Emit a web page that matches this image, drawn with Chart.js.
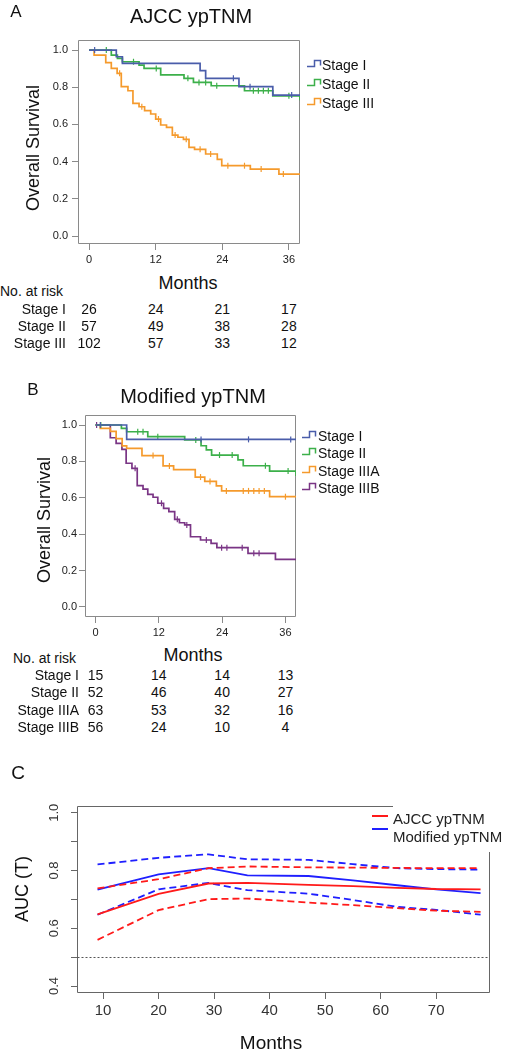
<!DOCTYPE html>
<html><head><meta charset="utf-8">
<script src="https://cdn.jsdelivr.net/npm/chart.js@4.4.1/dist/chart.umd.min.js"></script>
<style>
html,body{margin:0;padding:0;background:#fff;}
body{width:506px;height:1050px;position:relative;overflow:hidden;font-family:"Liberation Sans",Arial,sans-serif;color:#111;}
canvas{position:absolute;}
.t{position:absolute;white-space:nowrap;line-height:1;}
</style></head><body>
<canvas id="cA" width="380" height="270" style="left:0;top:0;width:380px;height:270px"></canvas>
<canvas id="cB" width="380" height="270" style="left:0;top:370px;width:380px;height:270px"></canvas>
<canvas id="cC" width="506" height="260" style="left:0;top:790px;width:506px;height:260px"></canvas>
<script>
// ---------------- DATA ----------------
// Panel A: AJCC ypTNM (Kaplan-Meier)
const A_STAGES = ['Stage I', 'Stage II', 'Stage III'];
const A_I_TIME   = [0, 4.9, 6.0, 20.0, 21.0, 27.0, 33.1, 38];
const A_I_SURV   = [1.0, 0.964, 0.928, 0.889, 0.848, 0.803, 0.758, 0.758];
const A_I_CENS   = [1.0, 26.0, 29.0, 36.5];
const A_II_TIME  = [0, 4.0, 5.1, 6.0, 9.0, 9.9, 12.9, 17.1, 18.8, 22.0, 28.0, 33.1, 38];
const A_II_SURV  = [1.0, 0.973, 0.955, 0.937, 0.919, 0.901, 0.866, 0.848, 0.826, 0.808, 0.781, 0.754, 0.730];
const A_II_CENS  = [3.1, 8.0, 12.1, 17.8, 19.8, 21.0, 23.0, 29.6, 30.5, 31.4, 32.3, 36.0];
const A_III_TIME = [0, 0.9, 3.0, 4.0, 5.05, 5.8, 7.0, 7.9, 9.0, 10.0, 11.1, 12.0, 12.9, 13.95, 15.0, 16.0, 17.0, 18.0, 19.0, 21.0, 23.1, 23.9, 29.05, 34.2, 38];
const A_III_SURV = [1.0, 0.973, 0.932, 0.901, 0.875, 0.803, 0.781, 0.713, 0.695, 0.674, 0.656, 0.629, 0.597, 0.584, 0.543, 0.531, 0.520, 0.477, 0.466, 0.441, 0.412, 0.378, 0.360, 0.333, 0.333];
const A_III_CENS = [5.5, 9.5, 12.5, 15.5, 17.5, 20.0, 21.9, 25.0, 28.0, 31.0, 35.0];
const A_RISK_I   = [26, 24, 21, 17];
const A_RISK_II  = [57, 49, 38, 28];
const A_RISK_III = [102, 57, 33, 12];

// Panel B: Modified ypTNM (Kaplan-Meier)
const B_STAGES = ['Stage I', 'Stage II', 'Stage IIIA', 'Stage IIIB'];
const B_I_TIME    = [0, 5.9, 38];
const B_I_SURV    = [1.0, 0.921, 0.921];
const B_I_CENS    = [0.9, 20.0, 29.0, 37.0];
const B_II_TIME   = [0, 4.9, 5.9, 9.9, 16.9, 20.0, 21.0, 22.0, 27.0, 28.0, 33.0, 38];
const B_II_SURV   = [1.0, 0.982, 0.963, 0.936, 0.918, 0.886, 0.863, 0.835, 0.808, 0.776, 0.747, 0.720];
const B_II_CENS   = [1.0, 8.0, 9.0, 11.8, 19.0, 23.5, 25.9, 32.2, 36.5];
const B_IIIA_TIME = [0, 0.9, 2.8, 3.9, 5.05, 5.9, 8.8, 12.8, 14.8, 18.9, 20.7, 22.9, 23.9, 33.0, 38];
const B_IIIA_SURV = [1.0, 0.982, 0.965, 0.925, 0.885, 0.872, 0.832, 0.775, 0.755, 0.714, 0.690, 0.665, 0.638, 0.606, 0.606];
const B_IIIA_CENS = [10.9, 14.0, 19.9, 21.7, 24.8, 28.0, 29.0, 30.0, 31.0, 32.0, 36.0];
const B_IIIB_TIME = [0, 2.8, 3.9, 5.0, 5.8, 6.9, 7.9, 9.0, 9.9, 10.9, 11.8, 12.9, 13.9, 15.0, 15.9, 16.9, 18.0, 19.9, 21.9, 23.0, 28.9, 34.1, 38];
const B_IIIB_SURV = [1.0, 0.930, 0.899, 0.866, 0.790, 0.762, 0.667, 0.648, 0.619, 0.603, 0.570, 0.542, 0.524, 0.482, 0.463, 0.451, 0.386, 0.368, 0.350, 0.326, 0.295, 0.262, 0.262];
const B_IIIB_CENS = [0.2, 7.5, 12.5, 15.5, 17.3, 21.0, 23.9, 24.9, 27.8, 30.0, 31.0];
const B_RISK_I    = [15, 14, 14, 13];
const B_RISK_II   = [52, 46, 40, 27];
const B_RISK_IIIA = [63, 53, 32, 16];
const B_RISK_IIIB = [56, 24, 10, 4];

const KM_X_TICKS = [0, 12, 24, 36];
const KM_Y_TICKS = [0.0, 0.2, 0.4, 0.6, 0.8, 1.0];

// Panel C: time-dependent AUC
const C_MONTHS   = [9, 20, 29, 36, 47, 55, 63, 70, 78];
const AJCC_AUC   = [0.648, 0.719, 0.755, 0.757, 0.750, 0.746, 0.740, 0.736, 0.735];
const AJCC_UPPER = [0.738, 0.770, 0.808, 0.814, 0.811, 0.810, 0.809, 0.808, 0.808];
const AJCC_LOWER = [0.560, 0.663, 0.701, 0.703, 0.689, 0.680, 0.670, 0.661, 0.657];
const MOD_AUC    = [0.734, 0.787, 0.808, 0.783, 0.781, 0.766, 0.749, 0.735, 0.722];
const MOD_UPPER  = [0.821, 0.844, 0.856, 0.839, 0.837, 0.822, 0.808, 0.805, 0.803];
const MOD_LOWER  = [0.647, 0.735, 0.757, 0.732, 0.720, 0.698, 0.674, 0.664, 0.647];
const C_X_TICKS  = [10, 20, 30, 40, 50, 60, 70];
const C_Y_TICKS  = [0.4, 0.5, 0.6, 0.7, 0.8, 0.9, 1.0];
const C_Y_LABELS = ['0.4', '', '0.6', '', '0.8', '', '1.0'];
const C_REF      = 0.5;
const C_SERIES   = ['AJCC ypTNM', 'Modified ypTNM'];

// ---------------- STYLE ----------------
const FONT = '"Liberation Sans", Arial, sans-serif';
Chart.defaults.font.family = FONT;
const COL = {blue:'#4a5daa', green:'#3cb04a', orange:'#f59a2c', purple:'#7a3585', red:'#ff1a1a', cblue:'#1f1fff'};

function stepAt(times, surv, t){ let v = surv[0]; for (let i = 0; i < times.length; i++){ if (times[i] <= t) v = surv[i]; } return v; }

const framePlugin = {
  id: 'frame',
  beforeDatasetsDraw(chart, args, o){
    const ctx = chart.ctx, a = chart.chartArea;
    const L = Math.round(a.left) + 0.5, R = Math.round(a.right) - 0.5, Tp = Math.round(a.top) + 0.5, B = Math.round(a.bottom) - 0.5;
    ctx.save(); ctx.strokeStyle = o.color; ctx.lineWidth = 1; ctx.beginPath();
    const topEnd = (o.topEnd != null) ? o.topEnd : R;
    const rightStart = (o.rightStart != null) ? o.rightStart : Tp;
    ctx.moveTo(L, Tp); ctx.lineTo(topEnd, Tp);
    ctx.moveTo(L, Tp); ctx.lineTo(L, B); ctx.lineTo(R, B); ctx.lineTo(R, rightStart);
    ctx.stroke();
    if (o.refY != null){
      const y = Math.round(chart.scales.y.getPixelForValue(o.refY)) + 0.5;
      ctx.setLineDash([2, 2]); ctx.strokeStyle = o.refColor; ctx.beginPath(); ctx.moveTo(L, y); ctx.lineTo(R, y); ctx.stroke();
    }
    ctx.restore();
  }
};

function makeKM(id, curves, P){
  const datasets = [];
  curves.forEach(c => {
    // Kaplan-Meier: horizontal to next event time, then drop (Chart.js 'before' mode)
    datasets.push({label: c.name, data: c.time.map((t, i) => ({x: t, y: c.surv[i]})), stepped: 'before',
      borderColor: c.color, borderWidth: 1.7, pointRadius: 0, fill: false});
    datasets.push({label: c.name + ' censored', data: c.cens.map(t => ({x: t, y: stepAt(c.time, c.surv, t)})),
      showLine: false, pointStyle: 'line', rotation: 90, pointRadius: 3, borderColor: c.color, backgroundColor: c.color, borderWidth: 1.2});
  });
  return new Chart(document.getElementById(id), {
    type: 'line', data: {datasets}, plugins: [framePlugin],
    options: {
      responsive: false, animation: false, events: [],
      layout: {padding: {left: 0, top: P.top, right: P.right, bottom: 0}},
      plugins: {legend: {display: false}, tooltip: {enabled: false}, frame: {color: '#8a8a8a'}},
      scales: {
        x: {type: 'linear', min: -2, max: 38,
          afterFit(s){ s.height = P.xh; },
          afterBuildTicks(s){ s.ticks = KM_X_TICKS.map(v => ({value: v})); },
          grid: {drawOnChartArea: false, drawTicks: true, tickLength: 6, color: '#8a8a8a'}, border: {display: false},
          ticks: {font: {size: 11}, color: '#222', padding: 3, maxRotation: 0, autoSkip: false, callback: v => String(v)}},
        y: {type: 'linear', min: P.ymin, max: P.ymax,
          afterFit(s){ s.width = P.yw; },
          afterBuildTicks(s){ s.ticks = KM_Y_TICKS.map(v => ({value: v})); },
          grid: {drawOnChartArea: false, drawTicks: true, tickLength: 6, color: '#8a8a8a'}, border: {display: false},
          ticks: {font: {size: 11}, color: '#222', padding: P.ypad, autoSkip: false, callback: v => Number(v).toFixed(1)}}
      }
    }
  });
}

const chartA = makeKM('cA', [
  {name: A_STAGES[0], time: A_I_TIME, surv: A_I_SURV, cens: A_I_CENS, color: COL.blue},
  {name: A_STAGES[1], time: A_II_TIME, surv: A_II_SURV, cens: A_II_CENS, color: COL.green},
  {name: A_STAGES[2], time: A_III_TIME, surv: A_III_SURV, cens: A_III_CENS, color: COL.orange}
], {top: 40, right: 80, yw: 78, xh: 26, ymin: -0.043, ymax: 1.054, ypad: 4});

const chartB = makeKM('cB', [
  {name: B_STAGES[0], time: B_I_TIME, surv: B_I_SURV, cens: B_I_CENS, color: COL.blue},
  {name: B_STAGES[1], time: B_II_TIME, surv: B_II_SURV, cens: B_II_CENS, color: COL.green},
  {name: B_STAGES[2], time: B_IIIA_TIME, surv: B_IIIA_SURV, cens: B_IIIA_CENS, color: COL.orange},
  {name: B_STAGES[3], time: B_IIIB_TIME, surv: B_IIIB_SURV, cens: B_IIIB_CENS, color: COL.purple}
], {top: 45, right: 84, yw: 85, xh: 23, ymin: -0.055, ymax: 1.055, ypad: 2});

function cLine(label, vals, color, dashed){
  return {label, data: C_MONTHS.map((m, i) => ({x: m, y: vals[i]})), borderColor: color, borderWidth: 1.8,
    borderDash: dashed ? [7, 4] : [], pointRadius: 0, fill: false, tension: 0};
}
const chartC = new Chart(document.getElementById('cC'), {
  type: 'line', plugins: [framePlugin],
  data: {datasets: [
    cLine(C_SERIES[0] + ' upper', AJCC_UPPER, COL.red, true),
    cLine(C_SERIES[0] + ' lower', AJCC_LOWER, COL.red, true),
    cLine(C_SERIES[0], AJCC_AUC, COL.red, false),
    cLine(C_SERIES[1] + ' upper', MOD_UPPER, COL.cblue, true),
    cLine(C_SERIES[1] + ' lower', MOD_LOWER, COL.cblue, true),
    cLine(C_SERIES[1], MOD_AUC, COL.cblue, false)
  ]},
  options: {
    responsive: false, animation: false, events: [],
    layout: {padding: {left: 0, top: 14, right: 16, bottom: 0}},
    plugins: {legend: {display: false}, tooltip: {enabled: false},
      frame: {color: '#666', topEnd: 393, rightStart: 62, refY: C_REF, refColor: '#555'}},
    scales: {
      x: {type: 'linear', min: 5.3, max: 79.7,
        afterFit(s){ s.height = 57; },
        afterBuildTicks(s){ s.ticks = C_X_TICKS.map(v => ({value: v})); },
        grid: {drawOnChartArea: false, drawTicks: true, tickLength: 6, color: '#666'}, border: {display: false},
        ticks: {font: {size: 15}, color: '#333', padding: 3, maxRotation: 0, autoSkip: false, callback: v => String(v)}},
      y: {type: 'linear', min: 0.376, max: 1.024,
        afterFit(s){ s.width = 77; },
        afterBuildTicks(s){ s.ticks = C_Y_TICKS.map(v => ({value: v})); },
        grid: {drawOnChartArea: false, drawTicks: true, tickLength: 6, color: '#666'}, border: {display: false},
        ticks: {font: {size: 13}, color: '#333', padding: 8, autoSkip: false, minRotation: 90, maxRotation: 90, crossAlign: 'center',
          callback: (v, i) => C_Y_LABELS[i]}}
    }
  }
});

// ---------------- TEXT (HTML) ----------------
function T(text, x, y, size, align, extra){
  const d = document.createElement('div');
  d.className = 't'; d.textContent = text;
  d.style.left = x + 'px'; d.style.top = y + 'px'; d.style.fontSize = size + 'px';
  const dx = align === 'left' ? '0' : (align === 'right' ? '-100%' : '-50%');
  d.style.transform = 'translate(' + dx + ',-50%)' + (extra && extra.rotate ? ' rotate(-90deg)' : '');
  if (extra && extra.color) d.style.color = extra.color;
  document.body.appendChild(d);
  return d;
}
function legendIcon(x, y, color){
  const s = document.createElementNS('http://www.w3.org/2000/svg', 'svg');
  s.setAttribute('width', '15'); s.setAttribute('height', '9');
  s.style.position = 'absolute'; s.style.left = x + 'px'; s.style.top = (y - 5) + 'px';
  const p = document.createElementNS('http://www.w3.org/2000/svg', 'path');
  p.setAttribute('d', 'M0 7.5 H7.5 V1.5 H13.5 V6.5');
  p.setAttribute('fill', 'none'); p.setAttribute('stroke', color); p.setAttribute('stroke-width', '1.5');
  s.appendChild(p); document.body.appendChild(s);
}
function riskTable(chart, rows, names, labelRight, headY, rowYs, headX){
  T('No. at risk', headX, headY, 14, 'left');
  rows.forEach((r, k) => {
    T(names[k], labelRight, rowYs[k], 14, 'right');
    r.forEach((n, j) => {
      const px = chart.scales.x.getPixelForValue(KM_X_TICKS[j]);
      T(String(n), px, rowYs[k], 14, 'center');
    });
  });
}

// Panel A texts
T('A', 16, 11, 17, 'center');
T('AJCC ypTNM', 191, 16, 20, 'center');
T('Overall Survival', 33, 148, 18, 'center', {rotate: true});
T('Months', 188, 283, 18, 'center');
[COL.blue, COL.green, COL.orange].forEach((c, i) => {
  const y = [64, 83, 102][i];
  legendIcon(307, y, c);
  T(A_STAGES[i], 322, y + 1, 14, 'left');
});
riskTable(chartA, [A_RISK_I, A_RISK_II, A_RISK_III], A_STAGES, 66, 291, [309, 326, 343], 0);

// Panel B texts
T('B', 33, 389, 17, 'center');
T('Modified ypTNM', 193, 396, 20, 'center');
T('Overall Survival', 44, 520, 18, 'center', {rotate: true});
T('Months', 193, 655, 18, 'center');
[COL.blue, COL.green, COL.orange, COL.purple].forEach((c, i) => {
  const y = [435, 452, 470, 487][i];
  legendIcon(302, y, c);
  T(B_STAGES[i], 318, y + 1, 14, 'left');
});
riskTable(chartB, [B_RISK_I, B_RISK_II, B_RISK_IIIA, B_RISK_IIIB], B_STAGES, 79, 658, [675, 692, 710, 727], 13);

// Panel C texts
T('C', 18, 772, 19, 'center');
T('AUC (T)', 22, 889, 18, 'center', {rotate: true});
T('Months', 271, 1042, 19, 'center');
[[COL.red, 816, 818], [COL.cblue, 829, 836]].forEach((v, i) => {
  const bar = document.createElement('div');
  bar.style.cssText = 'position:absolute;left:372px;width:16px;height:2px;top:' + (v[1] - 1) + 'px;background:' + v[0];
  document.body.appendChild(bar);
  T(C_SERIES[i], 393, v[2], 15, 'left', {color: '#222'});
});
</script>
</body></html>
